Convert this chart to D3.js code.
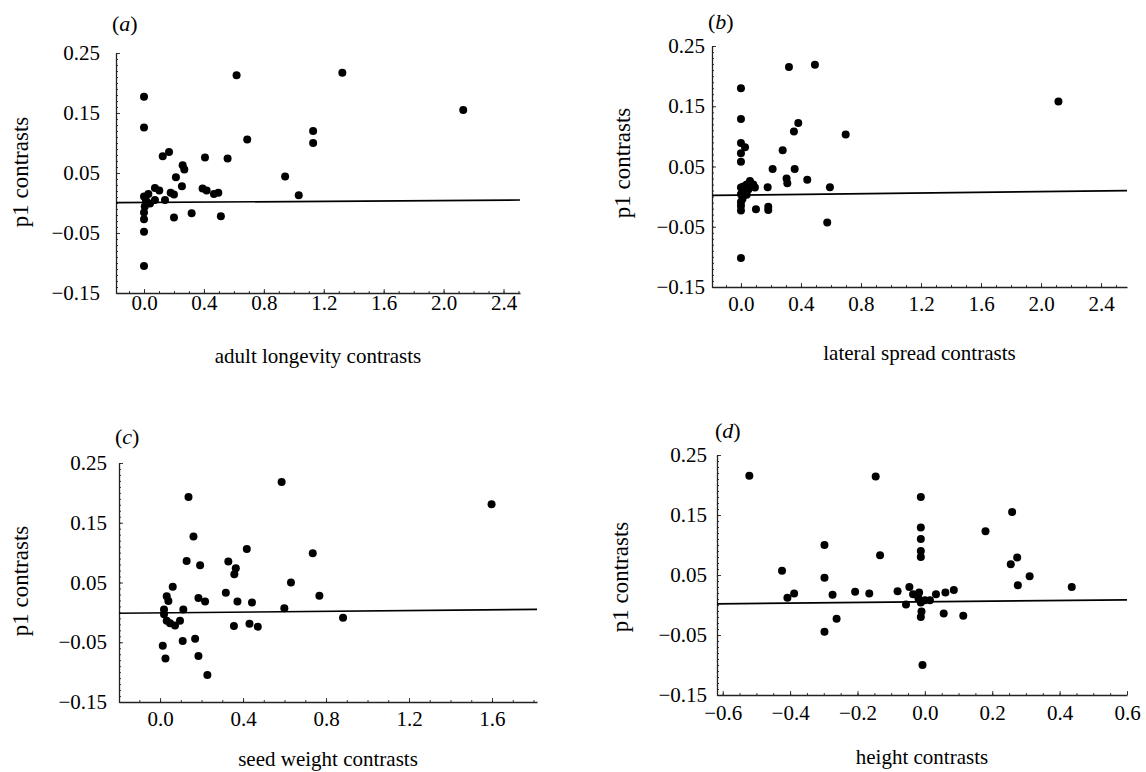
<!DOCTYPE html>
<html>
<head>
<meta charset="utf-8">
<script src="https://cdn.jsdelivr.net/npm/d3@7"></script>
<style>
  body { margin: 0; background: #fff; }
  svg text { font-family: 'Liberation Serif', 'Times New Roman', serif; fill: #000; }
</style>
</head>
<body>
<svg id="chart" width="1146" height="772" font-family="Liberation Serif, serif"></svg>
<script>
// DATA
const yTicks = [-0.15, -0.05, 0.05, 0.15, 0.25];
const xTicksA = [0, 0.4, 0.8, 1.2, 1.6, 2.0, 2.4];
const xTicksB = [0, 0.4, 0.8, 1.2, 1.6, 2.0, 2.4];
const xTicksC = [0, 0.4, 0.8, 1.2, 1.6];
const xTicksD = [-0.6, -0.4, -0.2, 0, 0.2, 0.4, 0.6];

// (a) adult longevity
const aX = [0, 0.029, 0.013, 0.005, 0, 0, 0, 0, 0, 0, 0.04, 0.073, 0.102, 0.073, 0.14, 0.178, 0.2, 0.213, 0.253, 0.258,
  0.269, 0.2, 0.318, 0.391, 0.418, 0.407, 0.467, 0.496, 0.513, 0.558, 0.618, 0.689, 0.125, 0.167, 0.942, 1.033, 1.129, 1.129, 1.324, 2.131];
const aY = [0.011, 0.015, 0.004, -0.006, -0.016, -0.027, -0.048, -0.105, 0.177, 0.126, -0.001, 0.025, 0.021, 0.005, 0.005, 0.017, 0.014, 0.043, 0.028, 0.063,
  0.056, -0.024, -0.017, 0.024, 0.021, 0.076, 0.015, 0.017, -0.022, 0.074, 0.213, 0.106, 0.078, 0.085, 0.044, 0.013, 0.12, 0.1, 0.217, 0.155];

// (b) lateral spread
const bX = [0, 0, 0, 0.027, 0, 0, 0, 0.016, 0.038, 0.06, 0.082, 0.093, 0.049, 0.027, 0, 0.01, 0, 0, 0, 0.038,
  0, 0.1, 0.178, 0.182, 0.182, 0.211, 0.278, 0.304, 0.309, 0.32, 0.353, 0.382, 0.358, 0.442, 0.493, 0.593, 0.575, 0.698, 2.116];
const bY = [0.18, 0.129, 0.089, 0.082, 0.072, 0.058, 0.015, 0.017, 0.02, 0.026, 0.02, 0.015, 0.012, 0.008, 0.004, -0.004, -0.009, -0.015, -0.023, 0.003,
  -0.102, -0.021, 0.0155, -0.017, -0.022, 0.046, 0.077, 0.03, 0.022, 0.215, 0.108, 0.122, 0.046, 0.028, 0.219, 0.0155, -0.043, 0.103, 0.158];

// (c) seed weight
const cX = [0.586, 0.137, 0.161, 0.128, 0.193, 0.061, 0.032, 0.04, 0.019, 0.019, 0.032, 0.048, 0.072, 0.096, 0.112, 0.185, 0.217, 0.109, 0.169, 0.013,
  0.026, 0.185, 0.228, 0.317, 0.329, 0.365, 0.358, 0.373, 0.356, 0.418, 0.443, 0.431, 0.471, 0.599, 0.631, 0.736, 0.768, 0.882, 1.598];
const cY = [0.218, 0.193, 0.127, 0.086, 0.079, 0.043, 0.027, 0.019, 0.005, -0.003, -0.014, -0.018, -0.022, -0.014, 0.005, 0.024, 0.018, -0.048, -0.044, -0.056,
  -0.077, -0.073, -0.105, 0.033, 0.085, 0.074, 0.064, 0.018, -0.023, 0.106, 0.0165, -0.019, -0.024, 0.007, 0.05, 0.099, 0.028, -0.009, 0.181];

// (d) height
const dX = [-0.521, -0.424, -0.408, -0.388, -0.298, -0.298, -0.298, -0.274, -0.262, -0.207, -0.165, -0.146, -0.133, -0.081, -0.046, -0.056, -0.035, -0.017, -0.019, -0.012,
  0, 0.015, 0.033, -0.012, -0.012, -0.012, -0.012, -0.012, -0.01, -0.012, -0.007, 0.056, 0.114, 0.061, 0.086, 0.18, 0.259, 0.255, 0.274, 0.311, 0.276, 0.436];
const dY = [0.2155, 0.057, 0.012, 0.019, 0.1, 0.0455, -0.0445, 0.017, -0.023, 0.022, 0.019, 0.214, 0.083, 0.023, 0.03, 0.001, 0.018, 0.021, 0.011, 0.004,
  0.008, 0.008, 0.018, 0.18, 0.129, 0.11, 0.09, 0.08, -0.011, -0.02, -0.1, -0.014, -0.018, 0.021, 0.025, 0.123, 0.155, 0.068, 0.079, 0.048, 0.033, 0.03];

// fitted line values at the two ends of each x axis
const fitA = [0.0005, 0.005];
const fitB = [0.002, 0.010];
const fitC = [-0.0015, 0.005];
const fitD = [0.002, 0.0085];

// SETTINGS
const dotRadius = 4;
const axisColor = '#222';
const tickFont = 21;
const serif = 'Liberation Serif, Times New Roman, serif';

const svg = d3.select('#chart');

const panels = [
  { tag: 'a', xs: aX, ys: aY, xTicks: xTicksA, fit: fitA, xMinor: 0.1, title: 'adult longevity contrasts',
    left: 116, right: 520, top: 53, bottom: 293, xDomain: [-0.187, 2.51],
    yPad: 16, xPad: 2, tagPos: [112, 31], yTitle: [28, 172], xTitleY: 363 },
  { tag: 'b', xs: bX, ys: bY, xTicks: xTicksB, fit: fitB, xMinor: 0.1, title: 'lateral spread contrasts',
    left: 712, right: 1127, top: 46, bottom: 287, xDomain: [-0.193, 2.573],
    yPad: 7, xPad: 9, tagPos: [708, 29], yTitle: [630, 163], xTitleY: 360 },
  { tag: 'c', xs: cX, ys: cY, xTicks: xTicksC, fit: fitC, xMinor: 0.1, title: 'seed weight contrasts',
    left: 119, right: 537, top: 463, bottom: 702, xDomain: [-0.198, 1.817],
    yPad: 12, xPad: 9, tagPos: [115, 444], yTitle: [28, 581], xTitleY: 766 },
  { tag: 'd', xs: dX, ys: dY, xTicks: xTicksD, fit: fitD, xMinor: 0.05, title: 'height contrasts',
    left: 717, right: 1127, top: 455, bottom: 695, xDomain: [-0.617, 0.6],
    yPad: 10, xPad: 10, tagPos: [715, 438], yTitle: [628, 577], xTitleY: 764 }
];

function drawPanel(p) {
  const x = d3.scaleLinear().domain(p.xDomain).range([p.left, p.right]);
  const y = d3.scaleLinear().domain([-0.15, 0.25]).range([p.bottom, p.top]);
  const g = svg.append('g').attr('class', 'panel-' + p.tag);

  // minor ticks
  const minorY = d3.range(-0.15, 0.2501, 0.01);
  g.append('g')
    .attr('transform', `translate(${p.left},0)`)
    .call(d3.axisLeft(y).tickValues(minorY).tickSize(-2).tickFormat(''))
    .call(a => a.select('.domain').remove());
  const minorX = d3.range(Math.ceil(p.xDomain[0] / p.xMinor) * p.xMinor, p.xDomain[1], p.xMinor);
  g.append('g')
    .attr('transform', `translate(0,${p.bottom})`)
    .call(d3.axisBottom(x).tickValues(minorX).tickSize(-2).tickFormat(''))
    .call(a => a.select('.domain').remove());

  // AXES
  const yAxis = d3.axisLeft(y)
    .tickValues(yTicks)
    .tickSizeInner(-4).tickSizeOuter(0)
    .tickPadding(p.yPad)
    .tickFormat(d3.format('.2f'));
  const xAxis = d3.axisBottom(x)
    .tickValues(p.xTicks)
    .tickSizeInner(-4).tickSizeOuter(0)
    .tickPadding(p.xPad)
    .tickFormat(d3.format('.1f'));

  g.append('g')
    .attr('class', 'y-axis')
    .attr('transform', `translate(${p.left},0)`)
    .call(yAxis);
  g.append('g')
    .attr('class', 'x-axis')
    .attr('transform', `translate(0,${p.bottom})`)
    .call(xAxis);

  g.selectAll('g').attr('font-family', serif);
  g.selectAll('.tick line').attr('stroke', axisColor).attr('stroke-width', 0.9);
  g.selectAll('.domain').attr('stroke', axisColor).attr('stroke-width', 1.3);
  g.selectAll('.tick text')
    .attr('font-family', serif)
    .attr('font-size', tickFont)
    .attr('fill', '#000');

  // fitted line
  const line = d3.line().x(d => x(d[0])).y(d => y(d[1]));
  g.append('path')
    .datum([[p.xDomain[0], p.fit[0]], [p.xDomain[1], p.fit[1]]])
    .attr('fill', 'none')
    .attr('stroke', '#000')
    .attr('stroke-width', 1.7)
    .attr('d', line);

  // points
  g.selectAll('circle')
    .data(p.xs.map((v, i) => [v, p.ys[i]]))
    .enter()
    .append('circle')
      .attr('cx', d => x(d[0]))
      .attr('cy', d => y(d[1]))
      .attr('r', dotRadius)
      .attr('fill', '#000');

  // titles
  g.append('text')
    .attr('text-anchor', 'middle')
    .attr('font-family', serif)
    .attr('font-size', 23)
    .attr('transform', `translate(${p.yTitle[0]},${p.yTitle[1]}) rotate(-90)`)
    .text('p1 contrasts');

  g.append('text')
    .attr('text-anchor', 'middle')
    .attr('font-family', serif)
    .attr('font-size', 21)
    .attr('x', (p.left + p.right) / 2)
    .attr('y', p.xTitleY)
    .text(p.title);

  const tag = g.append('text')
    .attr('x', p.tagPos[0])
    .attr('y', p.tagPos[1])
    .attr('font-family', serif)
    .attr('font-size', 22);
  tag.append('tspan').text('(');
  tag.append('tspan').attr('font-style', 'italic').text(p.tag);
  tag.append('tspan').text(')');
}

panels.forEach(drawPanel);
</script>
</body>
</html>
